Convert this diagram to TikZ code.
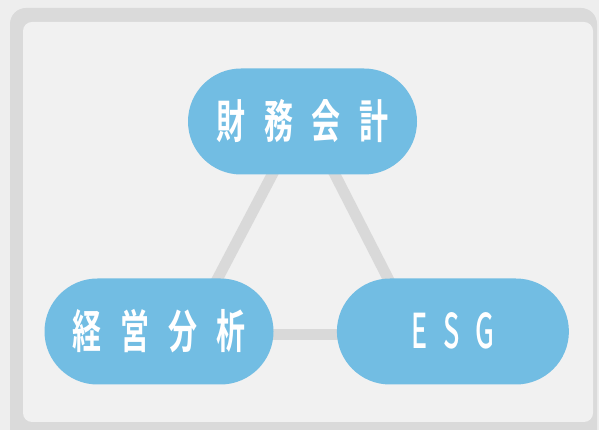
\documentclass[tikz,border=0pt]{standalone}
\usepackage{fontspec}
\usetikzlibrary{positioning,backgrounds}
\newfontfamily\jpfont[FakeStretch=0.63,LetterSpace=41]{Noto Sans CJK JP Bold}
\newfontfamily\esgfont[FakeStretch=0.56,LetterSpace=32]{Noto Sans CJK JP Medium}
\definecolor{pillblue}{HTML}{72BDE3}
\definecolor{linkgray}{HTML}{D9D9D9}
\definecolor{framegray}{HTML}{DADADA}
\definecolor{paper}{HTML}{F1F1F1}
\definecolor{paperout}{HTML}{EEEEEE}

\begin{document}
\begin{tikzpicture}[x=1pt,y=1pt,
    pill/.style={rectangle,rounded corners=53pt,fill=pillblue,text=white,
                 minimum width=229pt,minimum height=106pt,inner sep=0pt,
                 font=\fontsize{46}{46}\selectfont},
    link/.style={draw=linkgray,line width=11pt}]
    \useasboundingbox (0,0) rectangle (599,430);
    \node[pill]  (fin)  at (302.5,308.5)                      {\raisebox{4pt}{\jpfont 財務会計}};
    \node[pill]  (mgmt) at (159,98.5)                         {\raisebox{4pt}{\jpfont 経営分析}};
    \node[pill,minimum width=232pt]  (esg) [right=63pt of mgmt] {\raisebox{1pt}{\esgfont\fontsize{48}{48}\selectfont ESG}};

    \begin{scope}[on background layer]
    \fill[paperout] (0,0) rectangle (599,430);
    \fill[framegray,rounded corners=16pt] (10,-20) rectangle (597,422);
    \fill[paper,rounded corners=9pt] (23,8) rectangle (593,408);
    \path[link] ([shift={(1.5,7.5)}]fin.center)  edge ([shift={(29,-3.5)}]mgmt.center)
                ([shift={(1.5,7.5)}]fin.center)  edge ([shift={(-36,-3.5)}]esg.center)
                ([shift={(29,-3.5)}]mgmt.center) edge ([shift={(-36,-3.5)}]esg.center)
                ;
    \end{scope}
\end{tikzpicture}
\end{document}
